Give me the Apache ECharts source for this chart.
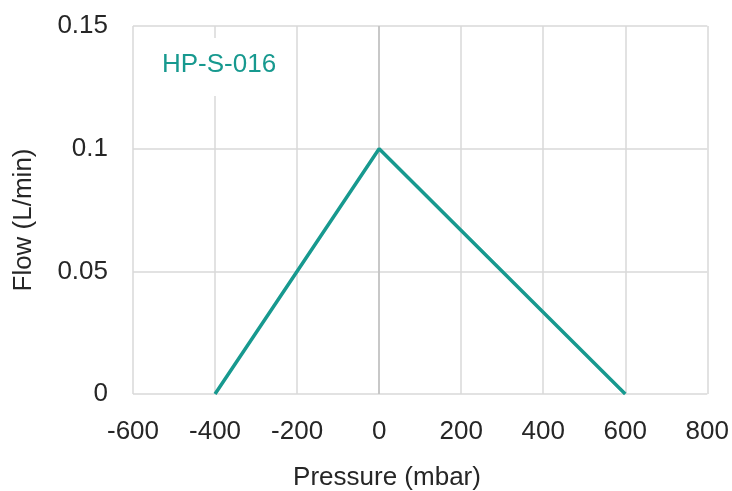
<!DOCTYPE html>
<html>
<head>
<meta charset="utf-8">
<script src="https://cdn.jsdelivr.net/npm/echarts@6/dist/echarts.min.js"></script>
<style>
  html, body { margin: 0; padding: 0; background: #fff; }
  #chart { width: 732px; height: 491px; }
</style>
</head>
<body>
<div id="chart"></div>
<script>
// values
const pressure = [-400, 0, 600];
const flow = [0, 0.1, 0];
const seriesName = "HP-S-016";
const xTitle = "Pressure (mbar)";
const yTitle = "Flow (L/min)";

const font = "'Liberation Sans', Arial, sans-serif";
const teal = "#17998f";
const textColor = "#262626";

const chart = echarts.init(document.getElementById("chart"));
chart.setOption({
    animation: false,
    grid: { left: 133, right: 23, top: 26, bottom: 97 },
    xAxis: {
        type: "value",
        min: -600,
        max: 800,
        interval: 200,
        axisLine: { show: false },
        axisTick: { show: false },
        axisLabel: { color: textColor, fontSize: 26, fontFamily: font, margin: 25 },
        splitLine: { lineStyle: { color: "#d9d9d9", width: 1.5 } }
    },
    yAxis: {
        type: "value",
        min: 0,
        max: 0.15,
        interval: 0.05,
        axisLine: { show: false },
        axisTick: { show: false },
        axisLabel: { color: textColor, fontSize: 26, fontFamily: font, margin: 25 },
        splitLine: { lineStyle: { color: "#d9d9d9", width: 1.5 } }
    },
    graphic: [
        {
            type: "text",
            left: 150,
            top: 38,
            z: 10,
            style: {
                text: seriesName,
                fill: teal,
                font: "26px " + font,
                backgroundColor: "#fff",
                padding: [14, 12, 18, 12]
            }
        },
        {
            type: "text",
            x: 387,
            y: 478,
            style: {
                text: xTitle,
                fill: textColor,
                font: "26px " + font,
                textAlign: "center",
                textVerticalAlign: "middle"
            }
        },
        {
            type: "text",
            x: 24,
            y: 220,
            rotation: Math.PI / 2,
            style: {
                text: yTitle,
                fill: textColor,
                font: "26px " + font,
                textAlign: "center",
                textVerticalAlign: "middle"
            }
        }
    ],
    series: [
        {
            name: seriesName,
            type: "line",
            data: pressure.map((p, i) => [p, flow[i]]),
            symbol: "none",
            lineStyle: { color: teal, width: 3.5 },
            z: 5,
            markLine: {
                silent: true,
                symbol: "none",
                label: { show: false },
                lineStyle: { color: "#bfbfbf", width: 1.5, type: "solid" },
                data: [{ xAxis: 0 }],
                z: 1
            }
        }
    ]
});
</script>
</body>
</html>
